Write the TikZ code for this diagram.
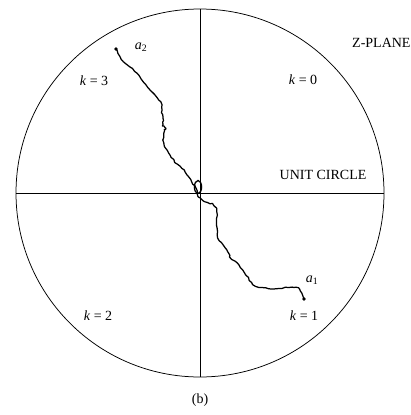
\documentclass[tikz,border=0pt]{standalone}
\usepackage{fontspec}
\setmainfont{Liberation Serif}
\usetikzlibrary{calc}

\begin{document}
\begin{tikzpicture}[x=1pt,y=-1pt,
  lbl/.style={font=\fontsize{14}{16}\selectfont,inner sep=0pt},
  ax/.style={draw=black,line width=0.75pt},
  traj/.style={draw=black,line width=1.25pt,line join=round,line cap=round},
  tip/.style={circle,fill=black,inner sep=0pt,minimum size=3.8pt}
]
\useasboundingbox (0,0) rectangle (411,415);
\pgfmathsetseed{11}
% plane
\coordinate (o) at (200,193);
\coordinate (w) at (16,193);
\coordinate (e) at (384,193);
\coordinate (n) at (200,9);
\coordinate (s) at (200,377);
\draw[ax] (o) circle[radius=184];
\draw[ax] (w) -- (e);
\draw[ax] (n) -- (s);

% root trajectories
\node[tip] (a2dot) at (116,49) {};
\node[tip] (a1dot) at (304,299) {};
\draw[traj] (a2dot.center)
  \foreach \x/\y [remember=\x as \lx (initially 116),remember=\y as \ly (initially 49)] in
  {118/53,123/62,130/67,137/73,143/82,150/90,157/97,162/105,162/113,163/120,
   163/126,166/128,164/131,163/140,165/148,170/155,175/162,182/168,187/175,192/182,196/188}
  { \foreach \t in {1,2,3} { -- ($(\lx,\ly)!\t/3!(\x,\y)+(0.6*rand,0.6*rand)$) } };
\draw[line width=1.3pt] (198,187) ellipse[x radius=3.6,y radius=6.5];
\draw[traj] (196,188)
  \foreach \x/\y [remember=\x as \lx (initially 196),remember=\y as \ly (initially 188)] in
  {198/197,205/202,212/204,217/208,217/218,217/228,218/238,223/245,228/252,
   230/257,237/263,242/270,248/278,253/285,262/288,272/289,282/288,292/287,298/288,302/293}
  { \foreach \t in {1,2,3} { -- ($(\lx,\ly)!\t/3!(\x,\y)+(0.6*rand,0.6*rand)$) } }
  -- (a1dot.center);

% labels
\node[lbl] (a2) at (141,47) {\textit{a}\textsubscript{2}};
\node[lbl] (a1) at (312,280) {\textit{a}\textsubscript{1}};
\node[lbl] (k3) at (94,81) {\textit{k} = 3};
\node[lbl] (k0) at (303,80) {\textit{k} = 0};
\node[lbl] (k2) at (98,316) {\textit{k} = 2};
\node[lbl] (k1) at (304,316) {\textit{k} = 1};
\node[lbl,anchor=west] (zp) at (352,43) {Z-PLANE};
\node[lbl] (uc) at (323,175) {UNIT CIRCLE};
\node[lbl] (cap) at (200,400) {(b)};
\end{tikzpicture}
\end{document}
